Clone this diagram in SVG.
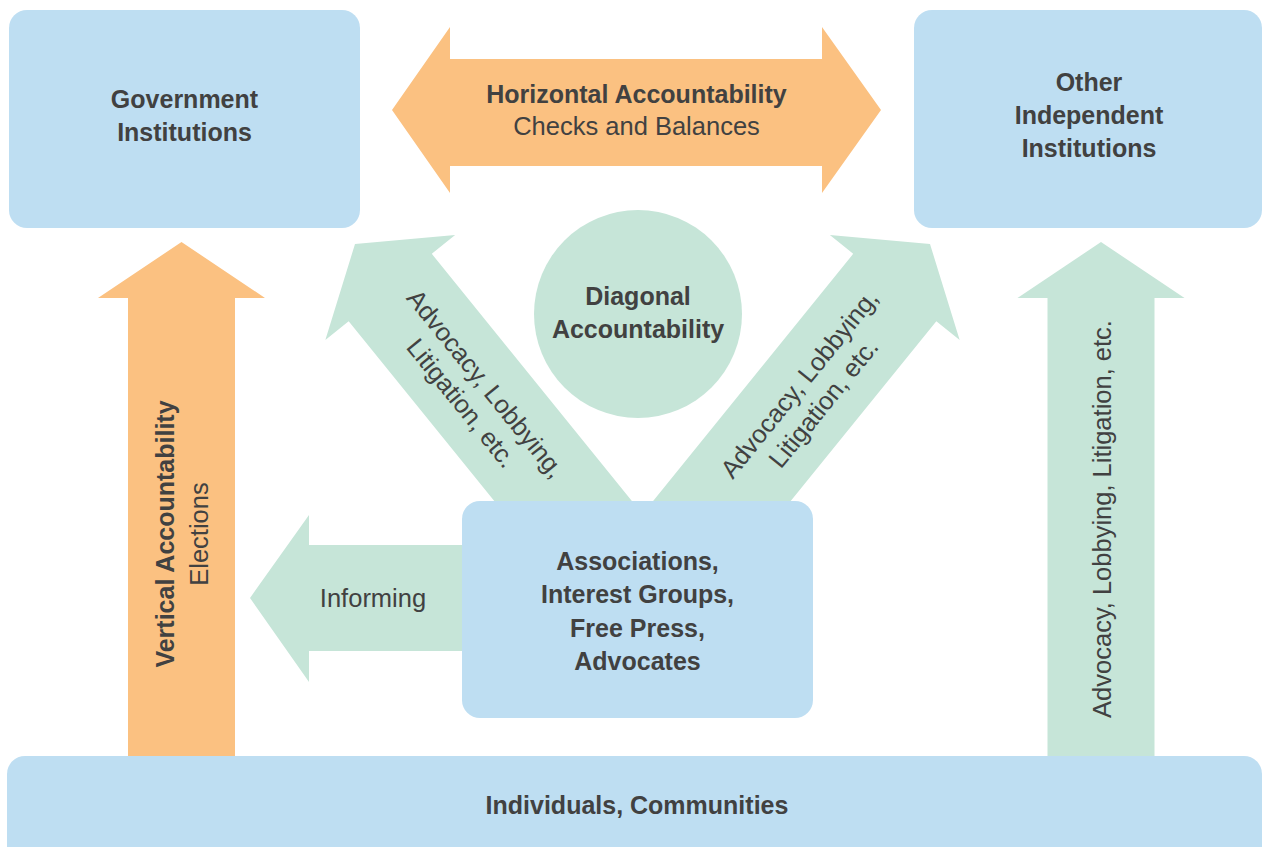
<svg xmlns="http://www.w3.org/2000/svg" width="1262" height="847" viewBox="0 0 1262 847">
  <defs>
    <style>
      .box { fill: #BEDEF2; }
      .orange { fill: #FBC181; }
      .green { fill: #C6E5D8; }
      text { font-family: "Liberation Sans", Arial, sans-serif; font-size: 25.5px; fill: #414141; }
      .b { font-weight: bold; font-size: 25px; }
      .c { text-anchor: middle; }
    </style>
    <path id="arrowUp" d="M0,0 L83.5,56 L53.5,56 L53.5,525 L-53.5,525 L-53.5,56 L-83.5,56 Z"/>
    <path id="arrowDiag" d="M0,0 L83.5,56 L53.5,56 L53.5,380 L-53.5,380 L-53.5,56 L-83.5,56 Z"/>
  </defs>
  <rect width="1262" height="847" fill="#FFFFFF"/>

  <g id="connectors">
    <g id="horizontal-arrow">
      <path class="orange" d="M392,110 L450,27 L450,59 L822,59 L822,27 L881,110 L822,193 L822,166 L450,166 L450,193 Z"/>
      <text class="c b" x="636.5" y="103">Horizontal Accountability</text>
      <text class="c" x="636.5" y="135">Checks and Balances</text>
    </g>
    <g id="vertical-arrow">
      <use href="#arrowUp" class="orange" transform="translate(181.5,242)"/>
      <text class="c b" transform="translate(174,534) rotate(-90)">Vertical Accountability</text>
      <text class="c" transform="translate(208,534) rotate(-90)">Elections</text>
    </g>
    <g id="right-vertical-arrow">
      <use href="#arrowUp" class="green" transform="translate(1101,242)"/>
      <text class="c" transform="translate(1111,519) rotate(-90)">Advocacy, Lobbying, Litigation, etc.</text>
    </g>
    <g id="left-diagonal-arrow">
      <use href="#arrowDiag" class="green" transform="translate(355,244) rotate(-39)"/>
      <g transform="translate(468,398) rotate(51)">
        <text class="c" x="0" y="-14">Advocacy, Lobbying,</text>
        <text class="c" x="0" y="17">Litigation, etc.</text>
      </g>
    </g>
    <g id="right-diagonal-arrow">
      <use href="#arrowDiag" class="green" transform="translate(930,244) rotate(39)"/>
      <g transform="translate(817,398) rotate(-51)">
        <text class="c" x="0" y="-14">Advocacy, Lobbying,</text>
        <text class="c" x="0" y="17">Litigation, etc.</text>
      </g>
    </g>
    <g id="informing-arrow">
      <path class="green" d="M250,598 L309,515 L309,545 L470,545 L470,651 L309,651 L309,682 Z"/>
      <text class="c" x="373" y="607">Informing</text>
    </g>
  </g>

  <g id="government-institutions">
    <rect class="box" x="9" y="10" width="351" height="218" rx="18"/>
    <text class="c b" x="184.5" y="108">Government</text>
    <text class="c b" x="184.5" y="141">Institutions</text>
  </g>

  <g id="other-independent-institutions">
    <rect class="box" x="914" y="10" width="348" height="218" rx="18"/>
    <text class="c b" x="1089" y="91">Other</text>
    <text class="c b" x="1089" y="124">Independent</text>
    <text class="c b" x="1089" y="157">Institutions</text>
  </g>

  <g id="diagonal-accountability">
    <circle class="green" cx="638" cy="314" r="104"/>
    <text class="c b" x="638" y="305">Diagonal</text>
    <text class="c b" x="638" y="338">Accountability</text>
  </g>

  <g id="associations">
    <rect class="box" x="462" y="501" width="351" height="217" rx="18"/>
    <text class="c b" x="637.5" y="570">Associations,</text>
    <text class="c b" x="637.5" y="603">Interest Groups,</text>
    <text class="c b" x="637.5" y="637">Free Press,</text>
    <text class="c b" x="637.5" y="670">Advocates</text>
  </g>

  <g id="individuals-communities">
    <rect class="box" x="7" y="756" width="1255" height="110" rx="18"/>
    <text class="c b" x="637" y="814">Individuals, Communities</text>
  </g>
</svg>
